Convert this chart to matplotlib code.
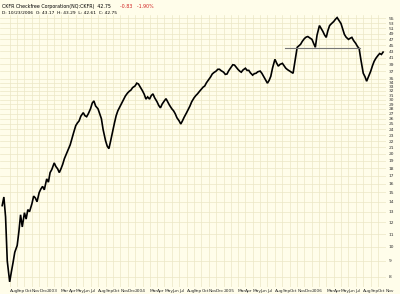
import numpy as np
import pandas as pd
import matplotlib
matplotlib.use("Agg")
import matplotlib.pyplot as plt
from matplotlib.ticker import FixedLocator, NullLocator

# closes, four per month (1st, 8th, 15th, 22nd)
closes_2002 = [13.6, 14.5, 12.5, 9.0,   7.7, 8.3, 8.9, 9.6,     10.1, 11.2, 12.7, 11.6,
               12.9, 12.3, 13.2, 13.0,  13.8, 14.6, 14.4, 14.0, 15.0, 15.4, 15.7, 15.3]
closes_2003 = [16.6, 16.2, 17.4, 17.8,  18.7, 18.2, 17.9, 17.4,  17.9, 18.5, 19.3, 19.9,
               20.8, 21.4, 22.4, 23.4,  24.7, 25.2, 25.6, 26.5,  27.2, 26.6, 26.4, 27.0,
               28.0, 29.2, 29.7, 28.6,  28.0, 27.0, 26.0, 24.0,  22.1, 21.2, 20.8, 22.0,
               23.8, 25.2, 26.6, 27.6,  28.6, 29.3, 30.1, 30.8,  31.5, 31.9, 32.2, 32.8]
closes_2004 = [33.2, 33.9, 33.7, 33.0,  32.0, 31.2, 30.1, 30.6,  30.1, 30.9, 31.3, 30.4,
               29.5, 28.7, 28.2, 29.0,  29.7, 30.2, 29.5, 28.8,  28.0, 27.6, 27.0, 26.2,
               25.6, 25.0, 25.6, 26.3,  27.2, 27.9, 28.6, 29.5,  30.4, 30.9, 31.3, 31.8,
               32.4, 32.9, 33.2, 34.0,  34.9, 35.5, 36.3, 36.7,  37.1, 37.6, 37.6, 37.2]
closes_2005 = [36.8, 36.2, 36.3, 37.2,  38.2, 38.9, 38.8, 38.2,  37.6, 37.1, 36.8, 37.4,
               37.9, 37.3, 37.3, 36.6,  36.0, 36.4, 36.5, 36.9,  37.1, 36.5, 35.7, 34.9,
               33.9, 34.6, 35.7, 37.9,  40.5, 39.4, 38.5, 39.0,  39.3, 38.6, 37.9, 37.5,
               37.1, 36.8, 36.5, 39.5,  44.3, 44.8, 45.3, 46.3,  47.3, 47.8, 48.0, 47.6]
closes_2006 = [47.0, 45.6, 44.3, 48.5,  52.1, 51.0, 49.9, 48.6,  47.7, 50.2, 52.1, 52.8,
               53.7, 54.6, 55.3, 54.2,  52.9, 50.8, 48.8, 47.8,  47.0, 47.4, 47.7, 46.6,
               45.6, 44.6, 43.9, 40.5,  36.5, 35.6, 34.4, 35.5,  37.1, 38.6, 39.9, 40.8,
               41.7, 42.3, 42.0, 42.75]

support_level = 44.0
support_span = ["2005-09-10", "2006-07-20"]

price_ticks = list(range(8, 36)) + list(range(37, 57, 2))

bg = "#fffdea"
grid_c = "#ebe7c6"

closes = closes_2002 + closes_2003 + closes_2004 + closes_2005 + closes_2006
days = pd.date_range("2002-07-01", "2006-10-31", freq="D")
dates = days[days.day.isin([1, 8, 15, 22])][:len(closes)]

fig = plt.figure(figsize=(4.0, 2.94), dpi=100, facecolor=bg)
ax = fig.add_axes([0.0, 0.025, 0.965, 0.925])
ax.set_facecolor(bg)

ax.plot(dates, closes, color="black", lw=1.2, solid_joinstyle="miter")
ax.plot(pd.to_datetime(support_span), [support_level] * 2, color="#777777", lw=0.8)

ax.set_yscale("log")
ax.set_ylim(7.43, 56.5)
ax.set_xlim(pd.Timestamp("2002-06-22"), pd.Timestamp("2006-11-03"))

ax.yaxis.tick_right()
ax.yaxis.set_major_locator(FixedLocator(price_ticks))
ax.yaxis.set_minor_locator(NullLocator())
ax.set_yticklabels([str(t) for t in price_ticks])
ax.tick_params(axis="y", length=0, pad=2, labelsize=3.2, colors="#333333")

months = pd.date_range("2002-08-01", "2006-11-01", freq="MS")
ax.set_xticks(months)
labels = []
for m in months:
    if m.month == 1:
        labels.append(str(m.year))
    elif m.month == 2:
        labels.append("")
    else:
        labels.append(m.strftime("%b"))
ax.set_xticklabels(labels, ha="left")
ax.tick_params(axis="x", length=0, pad=1.5, labelsize=3.2, colors="#333333")

ax.grid(True, color=grid_c, lw=0.5)
ax.set_axisbelow(True)
for s in ax.spines.values():
    s.set_visible(False)

fig.text(0.005, 0.985, "CKFR Checkfree Corporation(NQ:CKFR)  42.75", fontsize=3.4,
         va="top")
fig.text(0.30, 0.985, "-0.83   -1.90%", fontsize=3.4, va="top", color="#d02020")
fig.text(0.005, 0.962, "D: 10/23/2006  O: 43.17  H: 43.29  L: 42.61  C: 42.75", fontsize=3.2,
         va="top")

fig.savefig("out.png", dpi=100, facecolor=bg)
